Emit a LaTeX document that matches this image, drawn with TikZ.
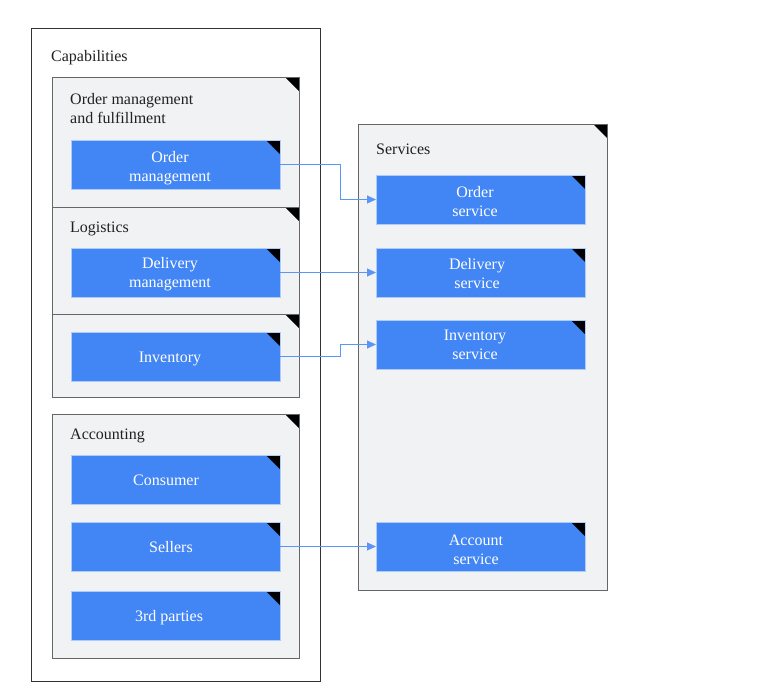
\documentclass[tikz,border=0pt]{standalone}
\usepackage{fontspec}
\setmainfont{Liberation Serif}
\usetikzlibrary{arrows.meta}
\definecolor{gfill}{HTML}{F1F2F4}
\definecolor{gline}{HTML}{666666}
\definecolor{oline}{HTML}{333333}
\definecolor{bfill}{HTML}{4285F4}
\definecolor{bline}{HTML}{AECBFA}
\definecolor{aline}{HTML}{5B95F5}
\definecolor{tdark}{HTML}{202124}
\tikzset{
  corner/.style={path picture={\fill[black] ([xshift=-14pt]path picture bounding box.north east) -- (path picture bounding box.north east) -- ([yshift=-14pt]path picture bounding box.north east) -- cycle;}},
  outerbox/.style={draw=oline, fill=white, line width=1pt, anchor=north west, inner sep=0pt, outer sep=0pt},
  groupbox/.style={draw=gline, fill=gfill, line width=1pt, anchor=north west, inner sep=0pt, outer sep=0pt, corner},
  bluebox/.style={draw=bline, fill=bfill, line width=0.8pt, anchor=north west, inner sep=0pt, outer sep=0pt, minimum width=209pt, minimum height=49pt, corner},
  btext/.style={text=white, align=center, font=\fontsize{16}{19}\selectfont, inner sep=0pt},
  label/.style={text=tdark, align=left, anchor=west, font=\fontsize{16}{19}\selectfont, inner sep=0pt},
  conn/.style={draw=aline, line width=1pt, -{Triangle[length=9pt,width=8pt]}},
}
\begin{document}
\begin{tikzpicture}[x=1pt,y=-1pt]
\useasboundingbox (0,0) rectangle (779,697);
% outer boxes
\node[outerbox, minimum width=289pt, minimum height=653pt] (cap) at (31,28) {};
\node[label] (capl) at (51,58) {Capabilities};
\node[groupbox, corner, minimum width=249pt, minimum height=466pt] (svc) at (358,124) {};
\node[label] (svcl) at (376,149) {Services};
% groups
\node[groupbox, minimum width=247pt, minimum height=130pt] (g1) at (52,77) {};
\node[label] (g1l) at (70,108.5) {Order management\\and fulfillment};
\node[groupbox, minimum width=247pt, minimum height=107pt] (g2) at (52,207) {};
\node[label] (g2l) at (70,229) {Logistics};
\node[groupbox, minimum width=247pt, minimum height=83pt] (g3) at (52,314) {};
\node[groupbox, minimum width=247pt, minimum height=244pt] (g4) at (52,414) {};
\node[label] (g4l) at (70,435.5) {Accounting};
% blue boxes left
\node[bluebox] (om) at (71,140) {};
\node[btext] (omt) at (170,168) {Order\\management};
\node[bluebox] (dm) at (71,248) {};
\node[btext] (dmt) at (170,274.5) {Delivery\\management};
\node[bluebox] (inv) at (71,332) {};
\node[btext] (invt) at (170,359) {Inventory};
\node[bluebox] (con) at (71,455) {};
\node[btext] (cont) at (166,480) {Consumer};
\node[bluebox] (sel) at (71,522) {};
\node[btext] (selt) at (171,547) {Sellers};
\node[bluebox] (trd) at (71,591) {};
\node[btext] (trdt) at (169,618) {3rd parties};
% blue boxes right
\node[bluebox] (os) at (376,175) {};
\node[btext] (ost) at (475,202) {Order\\service};
\node[bluebox] (ds) at (376,248) {};
\node[btext] (dst) at (477,273.5) {Delivery\\service};
\node[bluebox] (is) at (376,320) {};
\node[btext] (ist) at (475,345) {Inventory\\service};
\node[bluebox] (as) at (376,522) {};
\node[btext] (ast) at (476,550) {Account\\service};
% connectors
\draw[conn] (om.east) -- ++(60,0) |- (os.west);
\draw[conn] (dm.east) -- (ds.west);
\draw[conn] (inv.east) -- ++(60,0) |- (is.west);
\draw[conn] (sel.east) -- (as.west);
\end{tikzpicture}
\end{document}
